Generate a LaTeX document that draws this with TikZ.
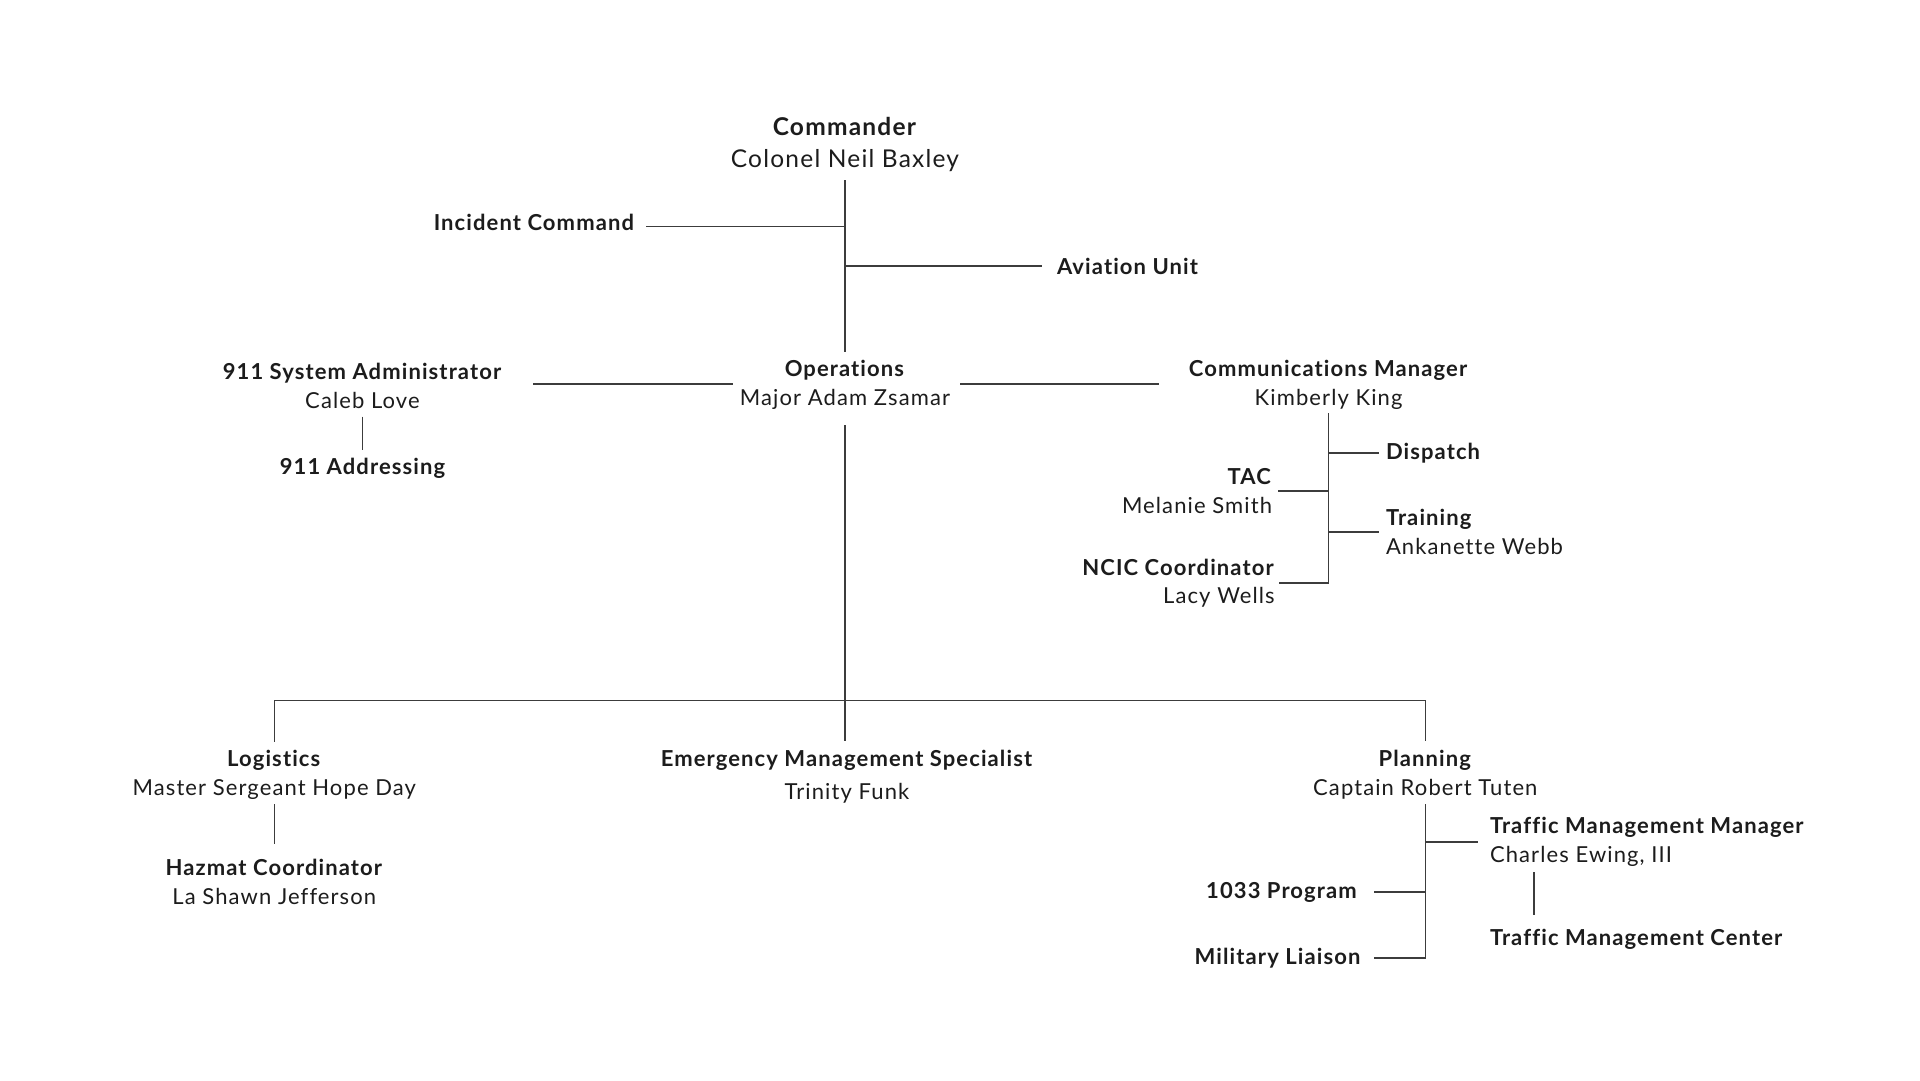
\documentclass[tikz,border=0pt]{standalone}
\usepackage{fontspec}
\setmainfont{Lato}[LetterSpace=5.0, Ligatures={NoCommon}]
\definecolor{txt}{HTML}{1C1C1C}
\definecolor{ln}{HTML}{3C3C3C}
\begin{document}
\begin{tikzpicture}[x=1pt,y=-1pt,
  every node/.style={inner sep=0pt, outer sep=0pt, text=txt},
  two/.style={font=\fontsize{22}{28.5}\selectfont, align=center},
  one/.style={font=\fontsize{22}{28}\selectfont\bfseries},
  conn/.style={draw=ln, line width=1.2pt}]
\useasboundingbox[fill=white] (0,0) rectangle (1920,1080);

% nodes
\node[font=\fontsize{24.5}{32}\selectfont, align=center] (cmd) at (845,144) {\textbf{Commander}\\Colonel Neil Baxley};
\node[one, anchor=east] (inc) at (634,222) {Incident Command};
\node[one, anchor=west] (avi) at (1057,266) {Aviation Unit};
\node[two] (ops) at (845,385) {\textbf{Operations}\\Major Adam Zsamar};
\node[two] (adm) at (362.5,386) {\textbf{911 System Administrator}\\Caleb Love};
\node[one] (addr) at (362.5,468.5) {911 Addressing};
\node[two] (com) at (1328.6,385) {\textbf{Communications Manager}\\Kimberly King};
\node[one, anchor=west] (disp) at (1386,453) {Dispatch};
\node[two, align=right, anchor=east] (tac) at (1272,491) {\textbf{TAC}\\Melanie Smith};
\node[two, align=left, anchor=west] (trn) at (1386,532) {\textbf{Training}\\Ankanette Webb};
\node[two, align=right, anchor=east] (ncic) at (1274.7,583) {\textbf{NCIC Coordinator}\\Lacy Wells};
\node[two] (log) at (274.3,775) {\textbf{Logistics}\\Master Sergeant Hope Day};
\node[two] (haz) at (274.3,882) {\textbf{Hazmat Coordinator}\\La Shawn Jefferson};
\node[two, font=\fontsize{22}{33}\selectfont] (ems) at (847,776.5) {\textbf{Emergency Management Specialist}\\Trinity Funk};
\node[two] (pln) at (1425.3,774.7) {\textbf{Planning}\\Captain Robert Tuten};
\node[two, align=left, anchor=west] (tmm) at (1490,842) {\textbf{Traffic Management Manager}\\Charles Ewing, III};
\node[one, anchor=west] (tmc) at (1490,939) {Traffic Management Center};
\node[one, anchor=east] (p1033) at (1356.7,892) {1033 Program};
\node[one, anchor=east] (mil) at (1360.4,958) {Military Liaison};

\coordinate (bus) at (845,700.4);

% connectors
\draw[conn] ([yshift=-9pt]cmd.south) -- ([yshift=9pt]ops.north);
\draw[conn] ([xshift=12pt,yshift=-4.5pt]inc.east) -- ([yshift=-4.5pt]inc.east -| cmd.south);
\draw[conn] (avi.west -| cmd.south) -- ([xshift=-15pt]avi.west);
\draw[conn] ([xshift=-7pt,yshift=1pt]ops.west) -- ([xshift=31pt,yshift=1pt]ops.west -| adm.east);
\draw[conn] ([xshift=10pt,yshift=1pt]ops.east) -- ([xshift=-30pt,yshift=1pt]ops.east -| com.west);
\draw[conn] ([yshift=-8pt]adm.south) -- ([yshift=8pt]addr.north);
\draw[conn] ([yshift=-4pt]com.south) -- (com.south |- ncic.east) -- ([xshift=4pt]ncic.east);
\draw[conn] (com.south |- disp.west) -- ([xshift=-7pt]disp.west);
\draw[conn] (com.south |- tac.east) -- ([xshift=6pt]tac.east);
\draw[conn] (com.south |- trn.west) -- ([xshift=-7pt]trn.west);
\draw[conn] ([yshift=-16pt]ops.south) -- ([yshift=9pt]ops.south |- ems.north);
\draw[conn] ([yshift=9pt]log.north) |- (bus) -| ([yshift=9pt]pln.north);
\draw[conn] ([yshift=-5pt]log.south) -- ([yshift=16pt]haz.north);
\draw[conn] ([yshift=-5pt]pln.south) -- (pln.south |- mil.east) -- ([xshift=14pt]mil.east);
\draw[conn] (pln.south |- p1033.east) -- ([xshift=17pt]p1033.east);
\draw[conn] (pln.south |- tmm.west) -- ([xshift=-12pt]tmm.west);
\draw[conn] ([xshift=44pt,yshift=-6pt]tmm.south west) -- ([xshift=44pt,yshift=14pt]tmc.north west);
\end{tikzpicture}
\end{document}
